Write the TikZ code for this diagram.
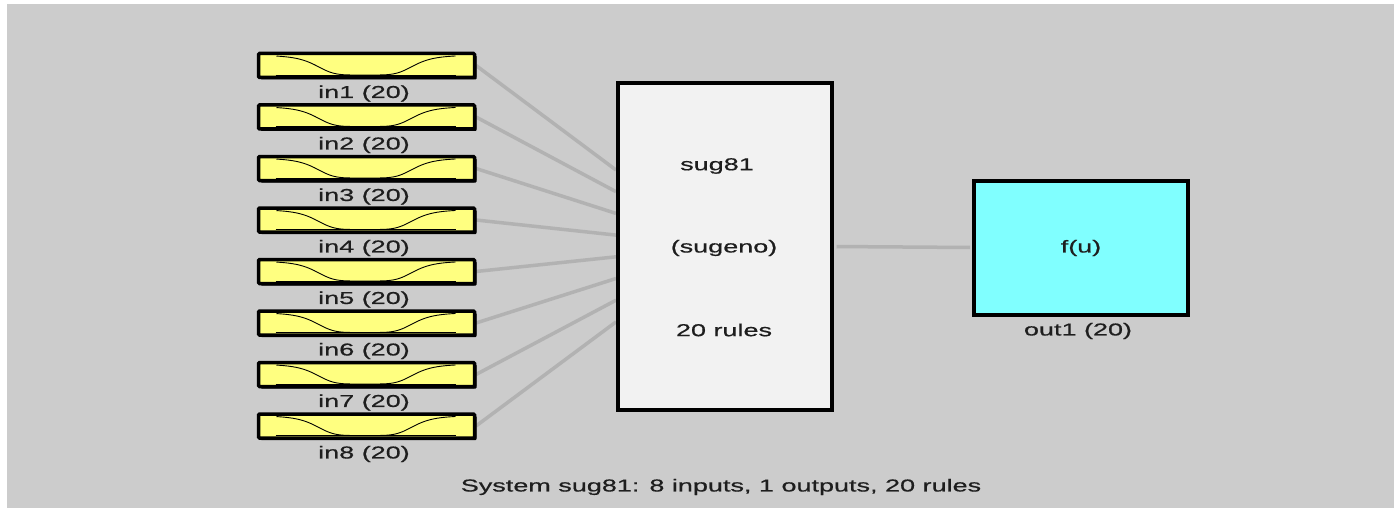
\documentclass[tikz,border=0pt]{standalone}
\usepackage{fontspec}
\setmainfont{Liberation Sans}[FakeStretch=1.57,FakeBold=0.6]
\usetikzlibrary{shadows}
\definecolor{bggray}{HTML}{CCCCCC}
\definecolor{inyellow}{HTML}{FFFF80}
\definecolor{fisgray}{HTML}{F2F2F2}
\definecolor{outcyan}{HTML}{80FFFF}
\definecolor{conngray}{HTML}{B2B2B2}
\definecolor{txt}{HTML}{1E1E1E}
\tikzset{
  boxshadow/.style={drop shadow={shadow xshift=2pt, shadow yshift=-2pt, fill=black, opacity=1}},
  inbox/.style={draw=black, line width=3.5pt, fill=inyellow, minimum width=216pt, minimum height=24pt, inner sep=0pt, rounded corners=1pt, boxshadow},
  fisbox/.style={draw=black, line width=4pt, fill=fisgray, minimum width=214pt, minimum height=326pt, inner sep=0pt, boxshadow},
  outbox/.style={draw=black, line width=4pt, fill=outcyan, minimum width=214pt, minimum height=134pt, inner sep=0pt, boxshadow},
  conn/.style={draw=conngray, line width=3.5pt},
  lbl/.style={text=txt, inner sep=0pt, font=\fontsize{17.2}{20}\selectfont},
  mfline/.style={draw=black, line width=0.9pt}
}
\begin{document}
\begin{tikzpicture}[x=1pt,y=-1pt]
\useasboundingbox (0,0) rectangle (1394,508);
\fill[bggray] (7,4) rectangle (1394,508);
% coordinates on the FIS box left side
\foreach \i in {1,...,8}{
  \coordinate (c\i) at (616,{170+21.7*(\i-1)});
}
% connectors (under the boxes)
\foreach \i in {1,...,8}{
  \draw[conn] (476,{65.5+51.5*(\i-1)}) -- (c\i);
}
% input boxes
\foreach \i in {1,...,8}{
  \node[inbox] (in\i) at (366.5,{65.5+51.5*(\i-1)}) {};
  \begin{scope}[shift={(in\i.center)}]
    \draw[mfline] plot[domain=-90:89, samples=91, smooth] (\x,{-10.5+20*1/(1+pow(abs((\x+1.5)/50),5))});
    \draw[mfline] (-91,9.5) -- (89,9.5);
  \end{scope}
  \node[lbl] (l\i) at (364,{93.5+51.5*(\i-1)}) {in\i{} (20)};
}
% FIS box
\node[fisbox] (fis) at (724.5,246.5) {};
\node[lbl] (t1) at (717,166) {sug81};
\node[lbl] (t2) at (724,248) {(sugeno)};
\node[lbl] (t3) at (724,330) {20 rules};
% output
\node[outbox] (out) at (1081,247.5) {};
\draw[conn, shorten <=3pt, shorten >=2pt] (fis.east) -- (out.west);
\node[lbl] (fu) at (1081,248) {f(u)};
\node[lbl] (ol) at (1078,331) {out1 (20)};
% caption
\node[lbl] (cap) at (721,487) {System sug81: 8 inputs, 1 outputs, 20 rules};
\end{tikzpicture}
\end{document}
